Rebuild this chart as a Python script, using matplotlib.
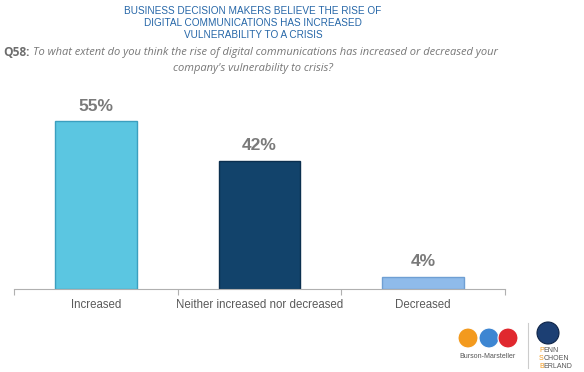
import matplotlib.pyplot as plt
from matplotlib.patches import Ellipse

# データ
categories = ["Increased", "Neither increased nor decreased", "Decreased"]
values = [55, 42, 4]
bar_colors = ["#5bc6e1", "#12436b", "#8fbbea"]
edge_colors = ["#3b9fbf", "#0b2f4f", "#6f9fd3"]

W, H = 584, 372
fig = plt.figure(figsize=(5.84, 3.72), dpi=100)
fig.patch.set_facecolor("white")

# タイトル
title_lines = ["BUSINESS DECISION MAKERS BELIEVE THE RISE OF",
               "DIGITAL COMMUNICATIONS HAS INCREASED",
               "VULNERABILITY TO A CRISIS"]
for i, line in enumerate(title_lines):
    fig.text(253 / W, 1 - (11 + i * 12) / H, line, ha="center", va="center",
             fontsize=7.2, color="#2667a8", family="Liberation Sans")

# 設問
fig.text(3 / W, 1 - 52 / H, "Q58:", ha="left", va="center", fontsize=8.6,
         color="#6d6d6d", fontweight="bold", family="Open Sans")
fig.text(33 / W, 1 - 52 / H,
         "To what extent do you think the rise of digital communications has increased or decreased your",
         ha="left", va="center", fontsize=8.0, color="#777777", style="italic", family="Open Sans")
fig.text(253 / W, 1 - 68 / H, "company's vulnerability to crisis?", ha="center", va="center",
         fontsize=8.0, color="#777777", style="italic", family="Open Sans")

# 棒グラフ
ax = fig.add_axes([14 / W, 1 - 289 / H, (505 - 14) / W, (289 - 100) / H])
x = list(range(len(categories)))
ax.bar(x, values, width=0.5, color=bar_colors, edgecolor=edge_colors, linewidth=1.0, zorder=2)
for xi, v in zip(x, values):
    ax.text(xi, v + 2.5, f"{v}%", ha="center", va="bottom", fontsize=12.5,
            fontweight="bold", color="#7a7a7a", family="Liberation Sans")

ax.set_xlim(-0.5, 2.5)
ax.set_ylim(0, 62)
ax.set_yticks([])
ax.set_xticks([-0.5, 0.5, 1.5, 2.5])
ax.set_xticklabels([])
ax.tick_params(axis="x", length=4, color="#b0b0b0", direction="out")
ax.set_xticks(x, minor=True)
ax.set_xticklabels(categories, minor=True, fontsize=8.3, color="#5a5a5a", family="Liberation Sans")
ax.tick_params(axis="x", which="minor", length=0, pad=7)
for s in ["top", "right", "left"]:
    ax.spines[s].set_visible(False)
ax.spines["bottom"].set_color("#b0b0b0")


def circle(cx, cy, r, fc, ec):
    fig.patches.append(Ellipse((cx / W, 1 - cy / H), 2 * r / W, 2 * r / H,
                               transform=fig.transFigure, facecolor=fc, edgecolor=ec, linewidth=0.8))


# ロゴ（簡略）
for cx, col in [(468, "#f39a1e"), (489, "#3d86d2"), (508, "#e0282e")]:
    circle(cx, 338, 10, col, "white")
fig.text(488 / W, 1 - 356 / H, "Burson-Marsteller", ha="center", va="center",
         fontsize=5, color="#555555", family="Liberation Sans")
fig.add_artist(plt.Line2D([528 / W, 528 / W], [1 - 323 / H, 1 - 368 / H],
                          transform=fig.transFigure, color="#cccccc", linewidth=0.8))
circle(548, 333, 11, "#1c3f73", "#0e2447")
for i, word in enumerate(["PENN", "SCHOEN", "BERLAND"]):
    yy = 1 - (350 + i * 8) / H
    fig.text(539 / W, yy, word[0], ha="left", va="center", fontsize=5, color="#f39a1e",
             family="Liberation Sans")
    fig.text(543.5 / W, yy, word[1:], ha="left", va="center", fontsize=5, color="#555555",
             family="Liberation Sans")

fig.savefig("out.png", dpi=100)
